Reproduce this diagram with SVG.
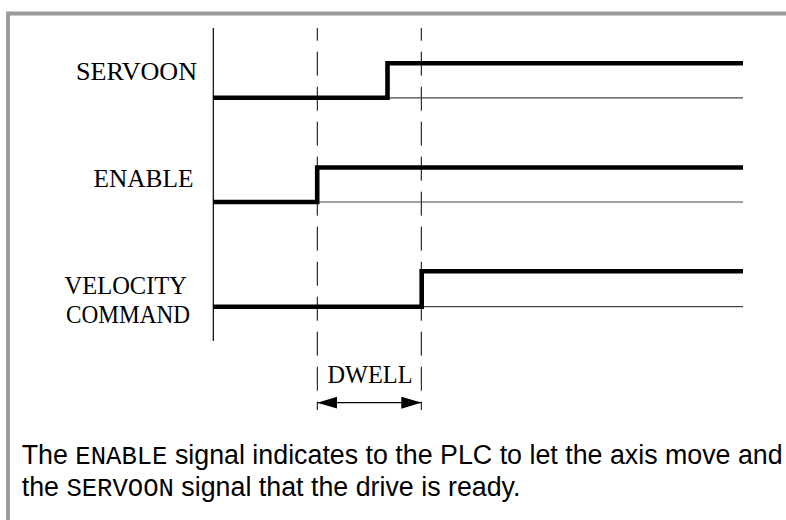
<svg xmlns="http://www.w3.org/2000/svg" width="786" height="520" viewBox="0 0 786 520">
  <style>
    .lbl { font-family: "Liberation Serif", "Times New Roman", serif; font-size: 25.5px; fill: #000; }
    .sig { fill: none; stroke: #000; stroke-width: 4.6; stroke-linejoin: miter; stroke-linecap: butt; }
    .base { fill: none; stroke: #444; stroke-width: 1.2; }
    .dash { fill: none; stroke: #000; stroke-width: 1; stroke-dasharray: 24 11; stroke-dashoffset: 11.3; }
    .body { font-family: "Liberation Sans", Arial, sans-serif; font-size: 26.8px; fill: #000; }
    .mono { font-family: "Liberation Mono", "Courier New", monospace; font-size: 25.6px; }
  </style>
  <defs>
    <marker id="arr" viewBox="0 0 20 12" refX="20" refY="6" markerWidth="20" markerHeight="12" markerUnits="userSpaceOnUse" orient="auto-start-reverse">
      <path d="M0 0 L20 6 L0 12 Z" fill="#000"/>
    </marker>
  </defs>
  <rect width="786" height="520" fill="#fff"/>
  <path d="M8 520 V13.5 H786" fill="none" stroke="#9a9a9a" stroke-width="3.8"/>

  <g id="axis">
    <line x1="213.3" y1="28" x2="213.3" y2="341" stroke="#000" stroke-width="1.2"/>
    <line class="dash" x1="317.3" y1="28" x2="317.3" y2="410"/>
    <line class="dash" x1="421.3" y1="28" x2="421.3" y2="410"/>
  </g>

  <g id="servoon">
    <text class="lbl" x="76" y="79.5" textLength="121" lengthAdjust="spacingAndGlyphs">SERVOON</text>
    <line class="base" x1="213" y1="97.8" x2="743" y2="97.8"/>
    <path class="sig" d="M213 97.8 H387.5 V63.3 H743"/>
  </g>

  <g id="enable">
    <text class="lbl" x="93.5" y="187.3" textLength="100" lengthAdjust="spacingAndGlyphs">ENABLE</text>
    <line class="base" x1="213" y1="202" x2="743" y2="202"/>
    <path class="sig" d="M213 202 H317.2 V167.5 H743"/>
  </g>

  <g id="velocity">
    <text class="lbl" x="64.5" y="294" textLength="122.5" lengthAdjust="spacingAndGlyphs">VELOCITY</text>
    <text class="lbl" x="66" y="323.3" textLength="124" lengthAdjust="spacingAndGlyphs">COMMAND</text>
    <line class="base" x1="213" y1="306.7" x2="743" y2="306.7"/>
    <path class="sig" d="M213 306.7 H421.7 V271.3 H743"/>
  </g>

  <g id="dwell">
    <text class="lbl" x="327.5" y="382.7" textLength="85" lengthAdjust="spacingAndGlyphs">DWELL</text>
  </g>

  <g id="connectors">
    <line x1="317.3" y1="402.7" x2="421.3" y2="402.7" stroke="#000" stroke-width="1.3" marker-start="url(#arr)" marker-end="url(#arr)"/>
  </g>

  <g id="caption">
    <text class="body" x="21.7" y="464">The <tspan class="mono">ENABLE</tspan> signal indicates to the PLC to let the axis move and</text>
    <text class="body" x="21.7" y="496">the <tspan class="mono">SERVOON</tspan> signal that the drive is ready.</text>
  </g>
</svg>
